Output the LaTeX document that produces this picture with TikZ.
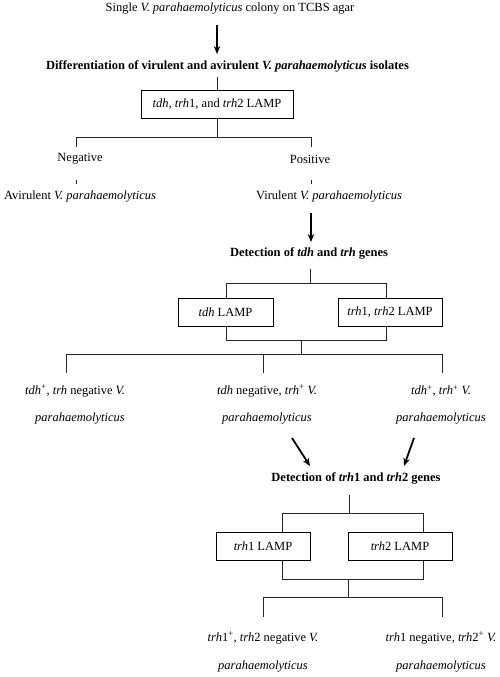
\documentclass[tikz,border=0pt]{standalone}
\usepackage{fontspec}
\setmainfont{Liberation Serif}
\usetikzlibrary{arrows.meta,calc}
\begin{document}
\begin{tikzpicture}[x=1pt,y=1pt,
 txt/.style={inner sep=0pt, font=\fontsize{12.5}{15}\selectfont, anchor=center},
 hd/.style={inner sep=0pt, font=\fontsize{12.5}{15}\selectfont\bfseries, anchor=center},
 lampbox/.style={draw, line width=1pt, inner sep=0pt, minimum height=28pt, font=\fontsize{12.5}{15}\selectfont},
 tree/.style={line width=0.9pt, draw=black!85},
 arr/.style={line width=1.8pt, -{Stealth[length=8pt,width=6.5pt]}},
]
\useasboundingbox (0,0) rectangle (500,-677);

% level 1
\node[txt] (top) at (230,-9) {Single \textit{V. parahaemolyticus} colony on TCBS agar};
\node[hd] (h1) at (227.5,-66) {Differentiation of virulent and avirulent \textit{V. parahaemolyticus} isolates};
\node[lampbox, minimum width=152pt] (b1) at (217,-104.5) {\textit{tdh}, \textit{trh}1, and \textit{trh}2 LAMP};
\node[txt] (neg) at (80,-159) {Negative};
\node[txt] (pos) at (310,-159) {Positive};
\node[txt] (avir) at (80,-197) {Avirulent \textit{V. parahaemolyticus}};
\node[txt] (vir) at (329,-197) {Virulent \textit{V. parahaemolyticus}};

\coordinate (a1s) at (217,-25); \coordinate (a1e) at (217,-54);
\draw[arr] (a1s) -- (a1e);
\coordinate (h1b) at (217,-77);
\draw[tree] (h1b) -- (b1.north);
\coordinate (j1) at (217,-137);
\coordinate (nl) at (76,-137); \coordinate (pl) at (311,-137);
\coordinate (nt) at (76,-147); \coordinate (pt) at (311,-147);
\draw[tree] (b1.south) -- (j1);
\draw[tree] (nt) -- (nl) -- (pl) -- (pt);
\coordinate (n1) at (76,-180); \coordinate (n2) at (76,-184);
\coordinate (p1) at (311,-180); \coordinate (p2) at (311,-184);
\draw[tree] (n1) -- (n2);
\draw[tree] (p1) -- (p2);

% level 2
\coordinate (a2s) at (311,-213); \coordinate (a2e) at (311,-242);
\draw[arr] (a2s) -- (a2e);
\node[hd] (h2) at (309,-253) {Detection of \textit{tdh} and \textit{trh} genes};
\node[lampbox, minimum width=95pt] (b2) at (225.5,-312) {\textit{tdh} LAMP};
\node[lampbox, minimum width=104pt] (b3) at (390,-312) {\textit{trh}1, \textit{trh}2 LAMP};
\coordinate (h2b) at (310,-269); \coordinate (j2) at (310,-283);
\draw[tree] (h2b) -- (j2);
\coordinate (l2a) at (226,-283); \coordinate (l2b) at (386,-283);
\draw[tree] (l2a |- b2.north) -- (l2a) -- (l2b) -- (l2b |- b3.north);
\coordinate (m2a) at (226,-340); \coordinate (m2b) at (386,-340);
\draw[tree] (m2a |- b2.south) -- (m2a) -- (m2b) -- (m2b |- b3.south);
\coordinate (k2) at (301,-340); \coordinate (k2b) at (301,-354);
\draw[tree] (k2) -- (k2b);
\coordinate (t1) at (66,-354); \coordinate (t2) at (263,-354); \coordinate (t3) at (442,-354);
\coordinate (t1b) at (66,-373); \coordinate (t2b) at (263,-373); \coordinate (t3b) at (442,-373);
\draw[tree] (t1b) -- (t1) -- (t3) -- (t3b);
\draw[tree] (t2) -- (t2b);

\node[txt] (r1a) at (75,-391) {\textit{tdh}\textsuperscript{+}, \textit{trh} negative \textit{V.}};
\node[txt] (r1b) at (267,-391) {\textit{tdh} negative, \textit{trh}\textsuperscript{+} \textit{V.}};
\node[txt] (r1c) at (441,-391) {\textit{tdh}\textsuperscript{+}, \textit{trh}\textsuperscript{+} \textit{V.}};
\node[txt] (r2a) at (80,-419) {\textit{parahaemolyticus}};
\node[txt] (r2b) at (267,-419) {\textit{parahaemolyticus}};
\node[txt] (r2c) at (441,-419) {\textit{parahaemolyticus}};

% level 3
\coordinate (d1s) at (292,-438); \coordinate (d1e) at (310,-466);
\coordinate (d2s) at (414,-438); \coordinate (d2e) at (404,-466);
\draw[arr] (d1s) -- (d1e);
\draw[arr] (d2s) -- (d2e);
\node[hd] (h3) at (356,-478) {Detection of \textit{trh}1 and \textit{trh}2 genes};
\node[lampbox, minimum width=94pt] (b4) at (263,-546) {\textit{trh}1 LAMP};
\node[lampbox, minimum width=104pt] (b5) at (400,-546) {\textit{trh}2 LAMP};
\coordinate (h3b) at (349,-495); \coordinate (j3) at (349,-513);
\draw[tree] (h3b) -- (j3);
\coordinate (l3a) at (282,-513); \coordinate (l3b) at (423,-513);
\draw[tree] (l3a |- b4.north) -- (l3a) -- (l3b) -- (l3b |- b5.north);
\coordinate (m3a) at (282,-579); \coordinate (m3b) at (423,-579);
\draw[tree] (m3a |- b4.south) -- (m3a) -- (m3b) -- (m3b |- b5.south);
\coordinate (k3) at (348,-579); \coordinate (k3b) at (348,-597);
\draw[tree] (k3) -- (k3b);
\coordinate (u1) at (263,-597); \coordinate (u2) at (442,-597);
\coordinate (u1b) at (263,-617); \coordinate (u2b) at (442,-617);
\draw[tree] (u1b) -- (u1) -- (u2) -- (u2b);

\node[txt] (r3a) at (263,-638) {\textit{trh}1\textsuperscript{+}, \textit{trh}2 negative \textit{V.}};
\node[txt] (r3b) at (441,-638) {\textit{trh}1 negative, \textit{trh}2\textsuperscript{+} \textit{V.}};
\node[txt] (r4a) at (263,-667) {\textit{parahaemolyticus}};
\node[txt] (r4b) at (441,-667) {\textit{parahaemolyticus}};
\end{tikzpicture}
\end{document}
